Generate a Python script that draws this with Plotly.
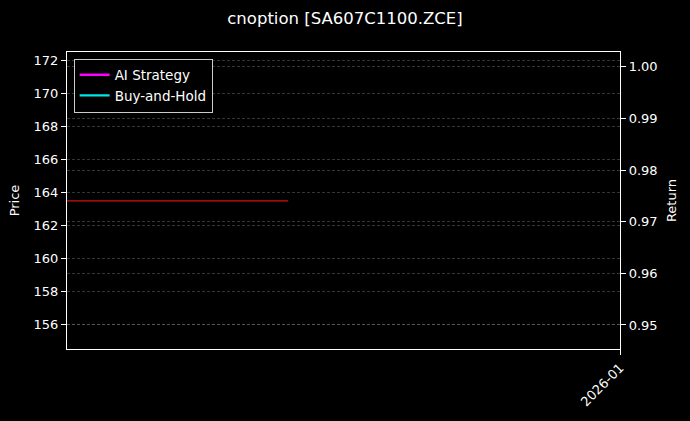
import plotly.graph_objects as go

# price series (flat) and the two return series (no visible values in this view)
dates = ["2025-12-27", "2025-12-28", "2025-12-29"]
price = [163.5, 163.5, 163.5]
ai_strategy = [None, None, None]
buy_and_hold = [None, None, None]

x_range = ["2025-12-27", "2026-01-01"]
x_ticks = ["2026-01-01"]
x_ticktext = ["2026-01"]

grid = "rgba(140,140,140,0.38)"
font = "DejaVu Sans"

fig = go.Figure()
fig.add_trace(go.Scatter(x=dates, y=price, mode="lines", name="Price",
                         line=dict(color="#d01010", width=1.3), showlegend=False))
fig.add_trace(go.Scatter(x=dates, y=ai_strategy, mode="lines", name="AI Strategy",
                         line=dict(color="#ff00ff", width=2.4), yaxis="y2"))
fig.add_trace(go.Scatter(x=dates, y=buy_and_hold, mode="lines", name="Buy-and-Hold",
                         line=dict(color="#00e5e5", width=2.4), yaxis="y2"))

fig.update_layout(
    width=690, height=421,
    paper_bgcolor="#000000", plot_bgcolor="#000000",
    font=dict(family=font, color="white", size=13),
    margin=dict(l=67, r=70, t=52, b=69),
    title=dict(text="cnoption [SA607C1100.ZCE]", x=0.5, xanchor="center", y=0.957, yanchor="middle",
               font=dict(size=16.5, color="white")),
    xaxis=dict(type="date", range=x_range, tickvals=x_ticks, ticktext=x_ticktext, tickangle=-45,
               showgrid=False, zeroline=False, showline=True, linecolor="white", linewidth=1.2,
               mirror=True, ticks="outside", tickcolor="white", ticklen=5, tickfont=dict(size=13)),
    yaxis=dict(title=dict(text="Price", font=dict(size=13), standoff=10), range=[154.5, 172.54],
               tickvals=list(range(156, 173, 2)), showgrid=True, gridcolor=grid, griddash="3px,2px",
               gridwidth=0.6, zeroline=False, showline=True, linecolor="white", linewidth=1.2,
               ticks="outside", tickcolor="white", ticklen=5, tickfont=dict(size=13)),
    yaxis2=dict(title=dict(text="Return", font=dict(size=13), standoff=10), overlaying="y", side="right",
                range=[0.94534, 1.00287], tickvals=[0.95, 0.96, 0.97, 0.98, 0.99, 1.00], tickformat=".2f",
                showgrid=True, gridcolor=grid, griddash="3px,2px", gridwidth=0.6, zeroline=False,
                showline=True, linecolor="white", linewidth=1.2, ticks="outside", tickcolor="white",
                ticklen=5, tickfont=dict(size=13)),
    legend=dict(x=0.012, y=0.978, xanchor="left", yanchor="top", bgcolor="#000000",
                bordercolor="#cccccc", borderwidth=1, font=dict(size=13.5, color="white"),
                tracegroupgap=2),
)

fig.write_html("out.html", config={"displayModeBar": False},
               post_script="document.body.style.margin='0';")
